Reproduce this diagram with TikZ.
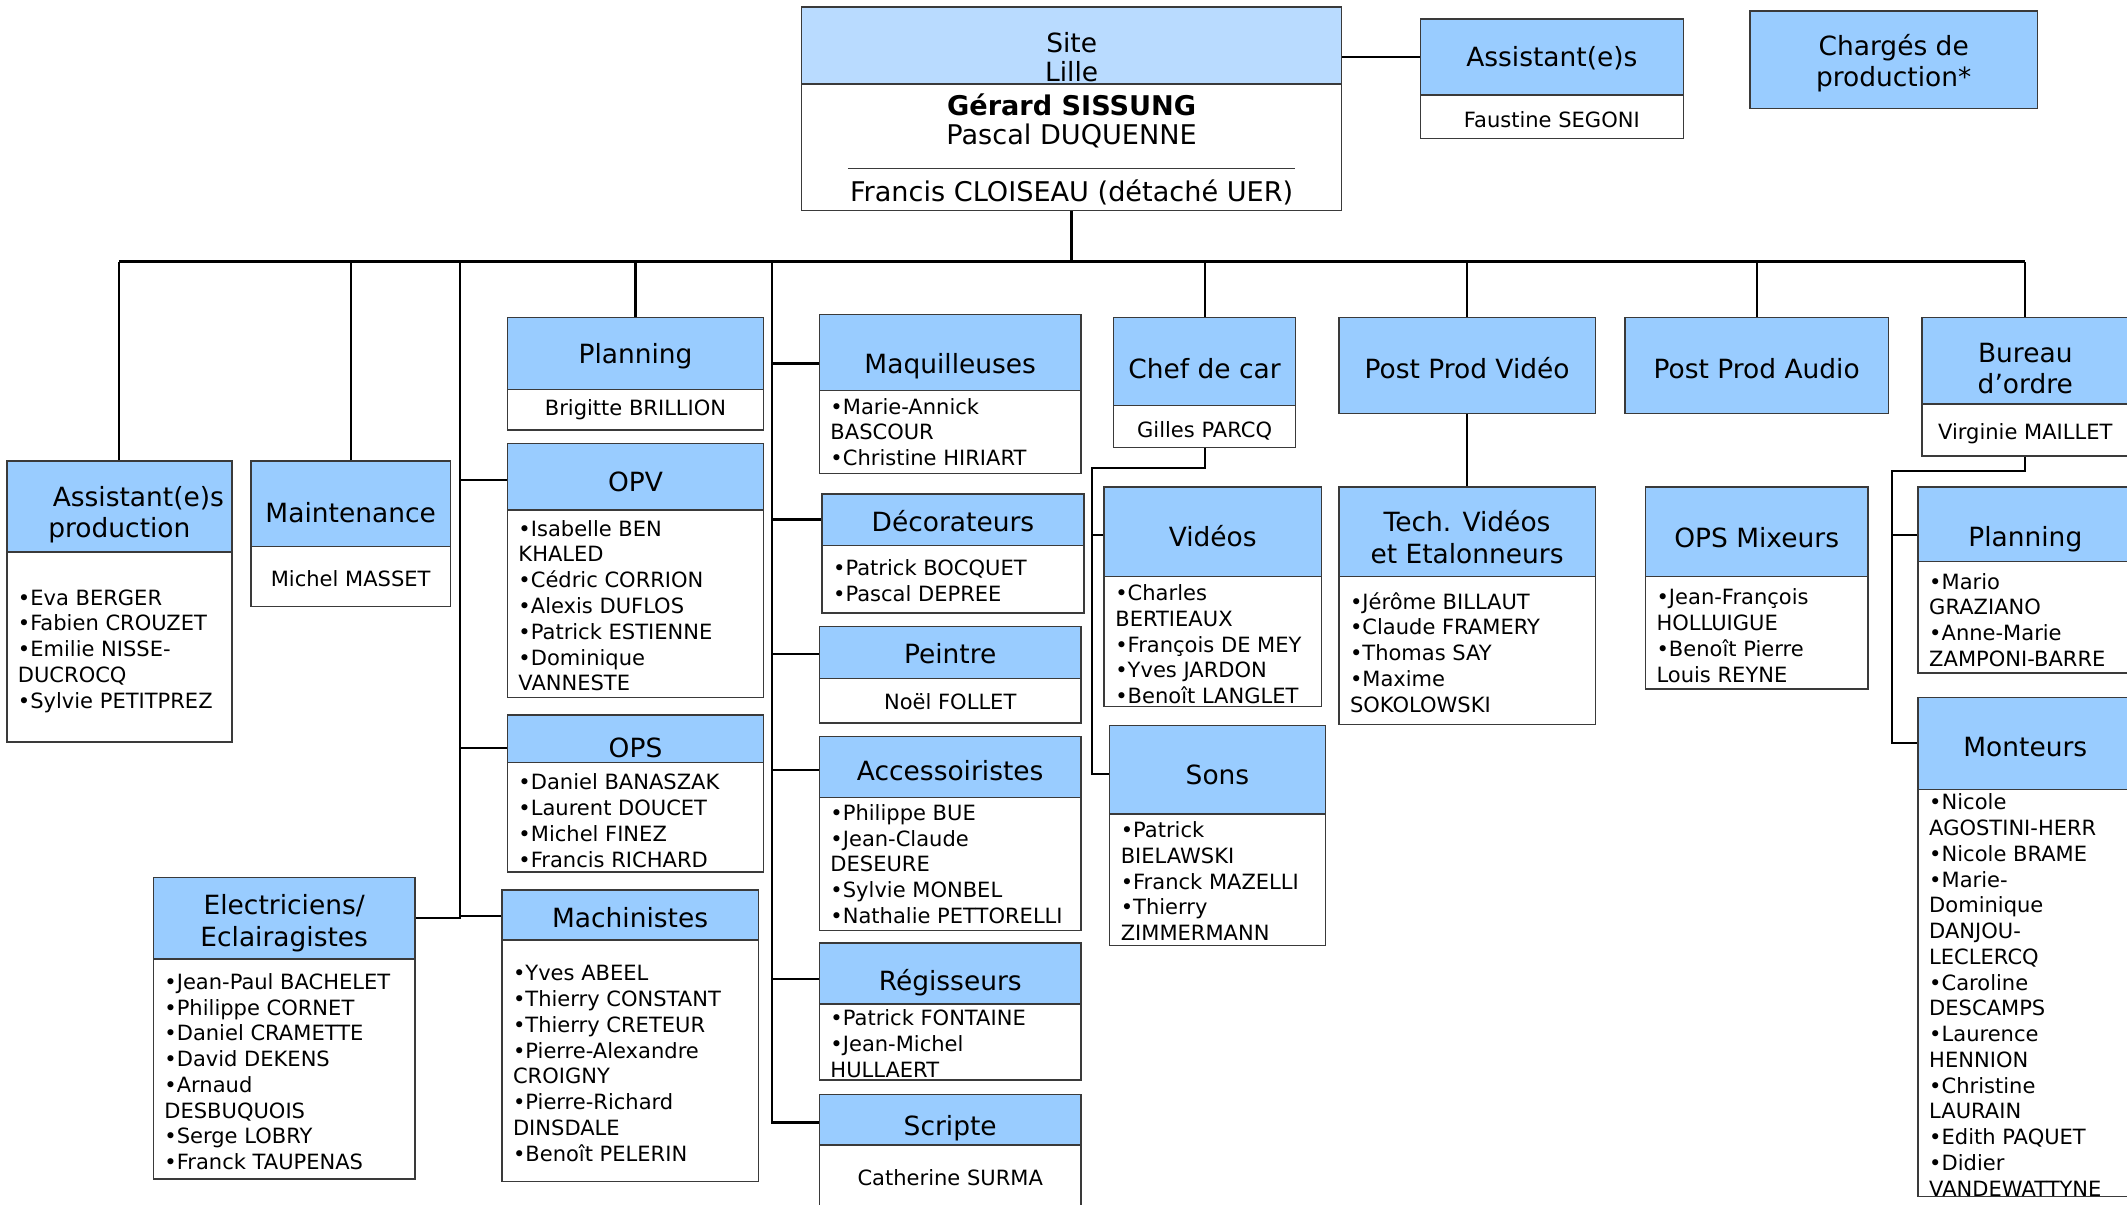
\documentclass[tikz,border=0pt]{standalone}
\usepackage{fontspec}
\setmainfont{DejaVu Sans}
\definecolor{hblue}{HTML}{99CCFF}
\definecolor{hbluelight}{HTML}{B9DBFF}
\definecolor{bordc}{HTML}{3A3A3A}
\tikzset{
  hdrbox/.style={draw=bordc, line width=1.1pt, fill=hblue, inner sep=0pt},
  hdrtxt/.style={align=center, inner sep=0pt, font=\fontsize{19.5}{23}\selectfont},
  bodybox/.style={draw=bordc, line width=1.1pt, fill=white, inner sep=0pt},
  bodytxt/.style={align=center, inner sep=0pt, font=\fontsize{15.5}{19}\selectfont},
  listtxt/.style={align=left, inner sep=0pt, font=\fontsize{15.5}{19}\selectfont},
  conn/.style={line width=1.6pt, black},
  busline/.style={line width=2.2pt, black}
}
% header: name x1 y1 x2 y2 dy text
\newcommand\orgH[7]{%
  \pgfmathsetmacro\bw{#4-#2}\pgfmathsetmacro\bh{#5-#3}%
  \node[hdrbox, minimum width=\bw pt, minimum height=\bh pt] (#1) at ({(#2+#4)/2},{-(#3+#5)/2}) {};
  \node[hdrtxt] (#1-h) at ({(#2+#4)/2},{-(#3+#5)/2-#6}) {#7};}
% body with left aligned list: name x1 y1 x2 y2 dy text
\newcommand\orgB[7]{%
  \pgfmathsetmacro\bw{#4-#2}\pgfmathsetmacro\bh{#5-#3}%
  \node[bodybox, minimum width=\bw pt, minimum height=\bh pt] (#1) at ({(#2+#4)/2},{-(#3+#5)/2}) {};
  \node[listtxt, anchor=west] (#1-t) at ({#2+8},{-(#3+#5)/2-#6}) {#7};}
% body with centred text
\newcommand\orgBC[7]{%
  \pgfmathsetmacro\bw{#4-#2}\pgfmathsetmacro\bh{#5-#3}%
  \node[bodybox, minimum width=\bw pt, minimum height=\bh pt] (#1) at ({(#2+#4)/2},{-(#3+#5)/2}) {};
  \node[bodytxt] (#1-t) at ({(#2+#4)/2},{-(#3+#5)/2-#6}) {#7};}
\begin{document}
\begin{tikzpicture}[x=1pt,y=1pt]
\useasboundingbox (0,0) rectangle (1568,-888);
\clip (0,0) rectangle (1568,-888);
\fill[white] (0,0) rectangle (1568,-888);

% ---- top ----
\node[hdrbox, fill=hbluelight, minimum width=398pt, minimum height=57pt] (site) at (790,-33.5) {};
\node[hdrtxt, font=\fontsize{19.5}{21}\selectfont] (site-h) at (790,-42) {Site\\Lille};
\node[bodybox, minimum width=398pt, minimum height=93pt] (site-b) at (790,-108.5) {};
\node[align=center, inner sep=0pt, font=\fontsize{20}{21.5}\selectfont] (site-n) at (790,-89) {\textbf{Gérard SISSUNG}\\Pascal DUQUENNE};
\draw[line width=1pt, bordc] (625,-124) -- (955,-124);
\node[inner sep=0pt, font=\fontsize{20}{22}\selectfont] (site-f) at (790,-142) {Francis CLOISEAU (détaché UER)};

\orgH{ass}{1047}{14}{1241}{70}{1}{Assistant(e)s}
\orgBC{ass-b}{1047}{70}{1241}{102}{2}{Faustine SEGONI}
\orgH{charg}{1290}{8}{1502}{80}{2.5}{Chargés de\\production*}

% ---- left part ----
\orgH{asp}{5}{340}{171}{407}{6}{\hspace*{28pt}Assistant(e)s\\production}
\orgB{asp-b}{5}{407}{171}{547}{3}{•Eva BERGER\\•Fabien CROUZET\\•Emilie NISSE-\\DUCROCQ\\•Sylvie PETITPREZ}
\orgH{maint}{185}{340}{332}{403}{6.5}{Maintenance}
\orgBC{maint-b}{185}{403}{332}{447}{1.5}{Michel MASSET}
\orgH{plan}{374}{234}{563}{287}{2}{Planning}
\orgBC{plan-b}{374}{287}{563}{317}{0}{Brigitte BRILLION}
\orgH{opv}{374}{327}{563}{376}{4}{OPV}
\orgB{opv-b}{374}{376}{563}{514}{1.5}{•Isabelle BEN\\KHALED\\•Cédric CORRION\\•Alexis DUFLOS\\•Patrick ESTIENNE\\•Dominique\\VANNESTE}
\orgH{ops}{374}{527}{563}{562}{7}{OPS}
\orgB{ops-b}{374}{562}{563}{643}{2.5}{•Daniel BANASZAK\\•Laurent DOUCET\\•Michel FINEZ\\•Francis RICHARD}
\orgH{elec}{113}{647}{306}{707}{3.5}{Electriciens/\\Eclairagistes}
\orgB{elec-b}{113}{707}{306}{869}{2}{•Jean-Paul BACHELET\\•Philippe CORNET\\•Daniel CRAMETTE\\•David DEKENS\\•Arnaud\\DESBUQUOIS\\•Serge LOBRY\\•Franck TAUPENAS}
\orgH{mach}{370}{656}{559}{693}{2}{Machinistes}
\orgB{mach-b}{370}{693}{559}{871}{2}{•Yves ABEEL\\•Thierry CONSTANT\\•Thierry CRETEUR\\•Pierre-Alexandre\\CROIGNY\\•Pierre-Richard\\DINSDALE\\•Benoît PELERIN}

% ---- middle column ----
\orgH{maq}{604}{232}{797}{288}{10}{Maquilleuses}
\orgB{maq-b}{604}{288}{797}{349}{0}{•Marie-Annick\\BASCOUR\\•Christine HIRIART}
\orgH{deco}{606}{364}{799}{402}{1}{Décorateurs}
\orgB{deco-b}{606}{402}{799}{452}{1}{•Patrick BOCQUET\\•Pascal DEPREE}
\orgH{peint}{604}{462}{797}{500}{1}{Peintre}
\orgBC{peint-b}{604}{500}{797}{533}{1}{Noël FOLLET}
\orgH{acc}{604}{543}{797}{588}{2.5}{Accessoiristes}
\orgB{acc-b}{604}{588}{797}{686}{0}{•Philippe BUE\\•Jean-Claude\\DESEURE\\•Sylvie MONBEL\\•Nathalie PETTORELLI}
\orgH{reg}{604}{695}{797}{740}{7}{Régisseurs}
\orgB{reg-b}{604}{740}{797}{796}{1.5}{•Patrick FONTAINE\\•Jean-Michel\\HULLAERT}
\orgH{scr}{604}{807}{797}{844}{6}{Scripte}
\orgBC{scr-b}{604}{844}{797}{900}{-3.5}{Catherine SURMA}

% ---- chef de car ----
\orgH{chef}{821}{234}{955}{299}{5}{Chef de car}
\orgBC{chef-b}{821}{299}{955}{330}{3}{Gilles PARCQ}
\orgH{vid}{814}{359}{974}{425}{3}{Vidéos}
\orgB{vid-b}{814}{425}{974}{521}{2}{•Charles\\BERTIEAUX\\•François DE MEY\\•Yves JARDON\\•Benoît LANGLET}
\orgH{sons}{818}{535}{977}{600}{4}{Sons}
\orgB{sons-b}{818}{600}{977}{697}{1}{•Patrick\\BIELAWSKI\\•Franck MAZELLI\\•Thierry\\ZIMMERMANN}

% ---- post prod ----
\orgH{ppv}{987}{234}{1176}{305}{2}{Post Prod Vidéo}
\orgH{tech}{987}{359}{1176}{425}{4}{Tech. Vidéos\\et Etalonneurs}
\orgB{tech-b}{987}{425}{1176}{534}{1.5}{•Jérôme BILLAUT\\•Claude FRAMERY\\•Thomas SAY\\•Maxime\\SOKOLOWSKI}
\orgH{ppa}{1198}{234}{1392}{305}{2}{Post Prod Audio}
\orgH{mix}{1213}{359}{1377}{425}{4}{OPS Mixeurs}
\orgB{mix-b}{1213}{425}{1377}{508}{2}{•Jean-François\\HOLLUIGUE\\•Benoît Pierre\\Louis REYNE}

% ---- bureau d'ordre ----
\orgH{bo}{1417}{234}{1569}{298}{5.5}{Bureau\\d'ordre}
\orgBC{bo-b}{1417}{298}{1569}{336}{3}{Virginie MAILLET}
\orgH{plantwo}{1414}{359}{1572}{414}{11}{Planning}
\orgB{plantwo-b}{1414}{414}{1572}{496}{2}{•Mario\\GRAZIANO\\•Anne-Marie\\ZAMPONI-BARRE}
\orgH{mont}{1414}{514}{1572}{582}{3}{Monteurs}
\orgB{mont-b}{1414}{582}{1572}{882}{1.5}{\fontsize{15.5}{18.9}\selectfont •Nicole\\AGOSTINI-HERR\\•Nicole BRAME\\•Marie-\\Dominique\\DANJOU-\\LECLERCQ\\•Caroline\\DESCAMPS\\•Laurence\\HENNION\\•Christine\\LAURAIN\\•Edith PAQUET\\•Didier\\VANDEWATTYNE}

% ---- connectors ----
\coordinate (busY) at (0,-193);
\draw[conn] (ass.west) -- (ass.west -| site.east);
\draw[busline] (site-b.south) -- (site-b.south |- busY);
\draw[busline] (asp.north |- busY) -- (bo.north |- busY);
\foreach \n in {asp,maint,plan,chef,ppv,ppa,bo}
  \draw[conn] (\n.north) -- (\n.north |- busY);
\coordinate (tone) at (339,-193);
\draw[conn] (tone) |- (elec.east);
\foreach \n/\s in {opv/-2.5,ops/-7,mach/-1}
  \draw[conn] ([yshift=\s pt]\n.west) -- ([yshift=\s pt]\n.west -| tone);
\coordinate (ttwo) at (569,-193);
\draw[conn] (ttwo) |- ([yshift=-2pt]scr.west);
\foreach \n/\s in {maq/-8,deco/0,peint/-1,acc/-2,reg/-4.5}
  \draw[conn] ([yshift=\s pt]\n.west) -- ([yshift=\s pt]\n.west -| ttwo);
\coordinate (tthree) at (805,-345);
\draw[conn] (chef-b.south) |- (tthree) |- ([yshift=-3pt]sons.west);
\draw[conn] ([yshift=-2.5pt]vid.west) -- ([yshift=-2.5pt]vid.west -| tthree);
\draw[conn] (ppv.south) -- (tech.north);
\coordinate (tfour) at (1395,-347);
\draw[conn] (bo-b.south) |- (tfour) |- (mont.west);
\draw[conn] ([yshift=-8pt]plantwo.west) -- ([yshift=-8pt]plantwo.west -| tfour);
\end{tikzpicture}
\end{document}
